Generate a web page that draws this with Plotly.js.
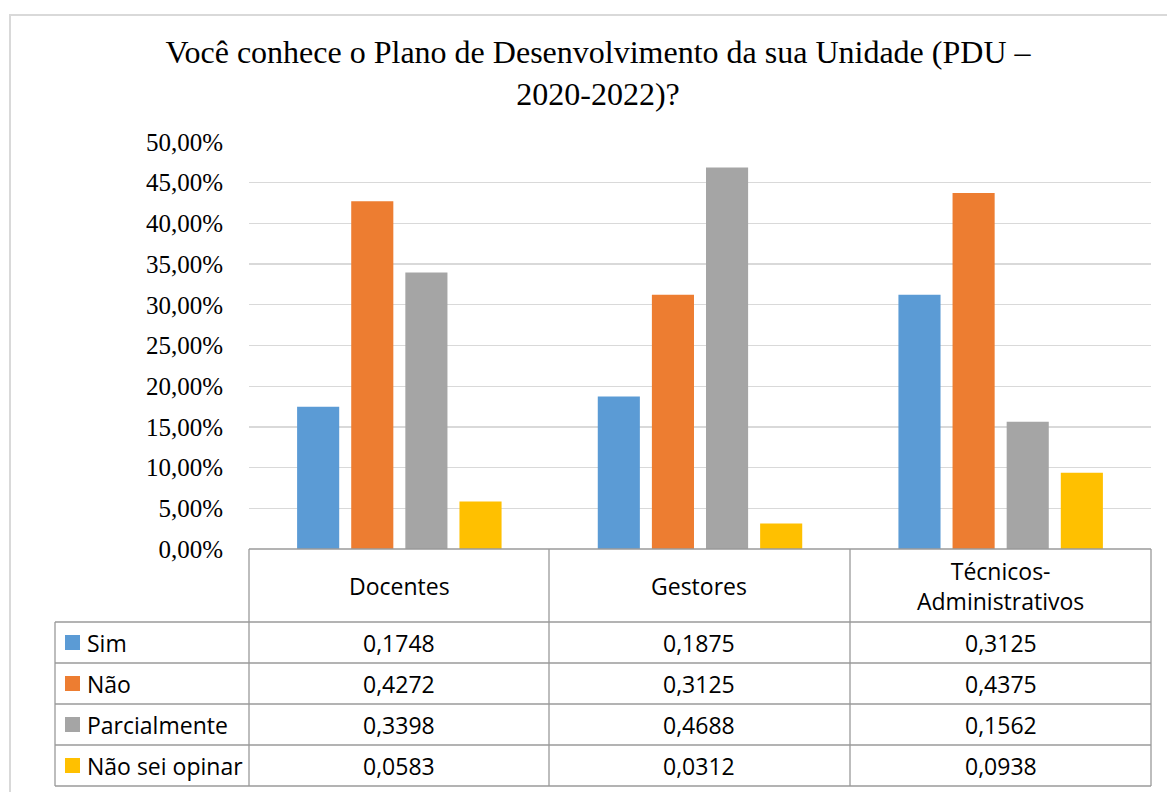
<!DOCTYPE html>
<html><head><meta charset="utf-8">
<script src="https://cdn.plot.ly/plotly-3.0.1.min.js"></script>
<style>html,body{margin:0;padding:0;background:#fff}#chart{width:1167px;height:792px}</style>
</head><body><div id="chart"></div>
<script>
const categories = ["Docentes", "Gestores", "Técnicos-<br>Administrativos"];
const seriesNames = ["Sim", "Não", "Parcialmente", "Não sei opinar"];
const sim = [0.1748, 0.1875, 0.3125];
const nao = [0.4272, 0.3125, 0.4375];
const parcialmente = [0.3398, 0.4688, 0.1562];
const naoSeiOpinar = [0.0583, 0.0312, 0.0938];
const colors = ["#5b9bd5", "#ed7d31", "#a5a5a5", "#ffc000"];
const titleText = "Você conhece o Plano de Desenvolvimento da sua Unidade (PDU –<br>2020-2022)?";

const allSeries = [sim, nao, parcialmente, naoSeiOpinar];
const W = 1167, H = 792;
const px = x => x / W, py = y => 1 - y / H;

// layout geometry (pixels)
const plotL = 249, plotR = 1151, plotT = 142, plotB = 549;
const tableL = 55;
const colEdges = [249, 549, 850, 1151];
const rowEdges = [622, 663, 704, 745, 786];

const traces = allSeries.map((vals, i) => ({
  type: "bar", name: seriesNames[i], x: [0, 1, 2], y: vals,
  marker: {color: colors[i]}, hoverinfo: "skip"
}));

const lineColor = "#9a9a9a";
const shapes = [];
const annotations = [];
shapes.push({type: "rect", xref: "paper", yref: "paper", x0: px(10), x1: px(1200), y0: py(830), y1: py(15), line: {color: "#d9d9d9", width: 2}});
shapes.push({type: "line", xref: "paper", yref: "paper", x0: px(plotL), x1: px(plotR), y0: py(plotB), y1: py(plotB), line: {color: lineColor, width: 1.3}});
colEdges.forEach(x => shapes.push({type: "line", xref: "paper", yref: "paper", x0: px(x), x1: px(x), y0: py(plotB), y1: py(rowEdges[rowEdges.length - 1]), line: {color: lineColor, width: 1.3}}));
shapes.push({type: "line", xref: "paper", yref: "paper", x0: px(tableL), x1: px(tableL), y0: py(rowEdges[0]), y1: py(rowEdges[rowEdges.length - 1]), line: {color: lineColor, width: 1.3}});
rowEdges.forEach(y => shapes.push({type: "line", xref: "paper", yref: "paper", x0: px(tableL), x1: px(plotR), y0: py(y), y1: py(y), line: {color: lineColor, width: 1.3}}));

const tFont = {family: "Open Sans, sans-serif", size: 23, color: "#000"};
categories.forEach((c, j) => {
  annotations.push({xref: "paper", yref: "paper", x: px((colEdges[j] + colEdges[j + 1]) / 2), y: py((plotB + rowEdges[0]) / 2),
    text: c, showarrow: false, xanchor: "center", yanchor: "middle", font: tFont});
});
allSeries.forEach((vals, i) => {
  const yc = (rowEdges[i] + rowEdges[i + 1]) / 2;
  shapes.push({type: "rect", xref: "paper", yref: "paper", x0: px(65), x1: px(80), y0: py(yc + 7.5), y1: py(yc - 7.5), fillcolor: colors[i], line: {width: 0}});
  annotations.push({xref: "paper", yref: "paper", x: px(85), y: py(yc), text: seriesNames[i], showarrow: false, xanchor: "left", yanchor: "middle", font: tFont});
  vals.forEach((v, j) => {
    annotations.push({xref: "paper", yref: "paper", x: px((colEdges[j] + colEdges[j + 1]) / 2), y: py(yc),
      text: v.toFixed(4).replace(".", ","), showarrow: false, xanchor: "center", yanchor: "middle", font: tFont});
  });
});

const layout = {
  width: W, height: H, margin: {l: 0, r: 0, t: 0, b: 0},
  paper_bgcolor: "#fff", plot_bgcolor: "#fff",
  separators: ",.",
  showlegend: false,
  barmode: "group", bargap: 0.28, bargroupgap: 0.222,
  title: {text: titleText, x: px(598), xanchor: "center", y: py(63), yanchor: "top",
    font: {family: "Liberation Serif, Times New Roman, serif", size: 32, color: "#000"}},
  xaxis: {domain: [px(plotL), px(plotR)], range: [-0.5, 2.5], showticklabels: false, showgrid: false, zeroline: false, ticks: ""},
  yaxis: {domain: [py(plotB), py(plotT)], range: [0, 0.5], dtick: 0.05, tickformat: ".2%",
    showgrid: true, gridcolor: "#d9d9d9", gridwidth: 1.3, zeroline: false, showline: false,
    ticks: "", ticklabelstandoff: 25,
    tickfont: {family: "Liberation Serif, Times New Roman, serif", size: 25, color: "#000"}},
  shapes, annotations
};
Plotly.newPlot("chart", traces, layout, {displayModeBar: false, staticPlot: true});
</script></body></html>
